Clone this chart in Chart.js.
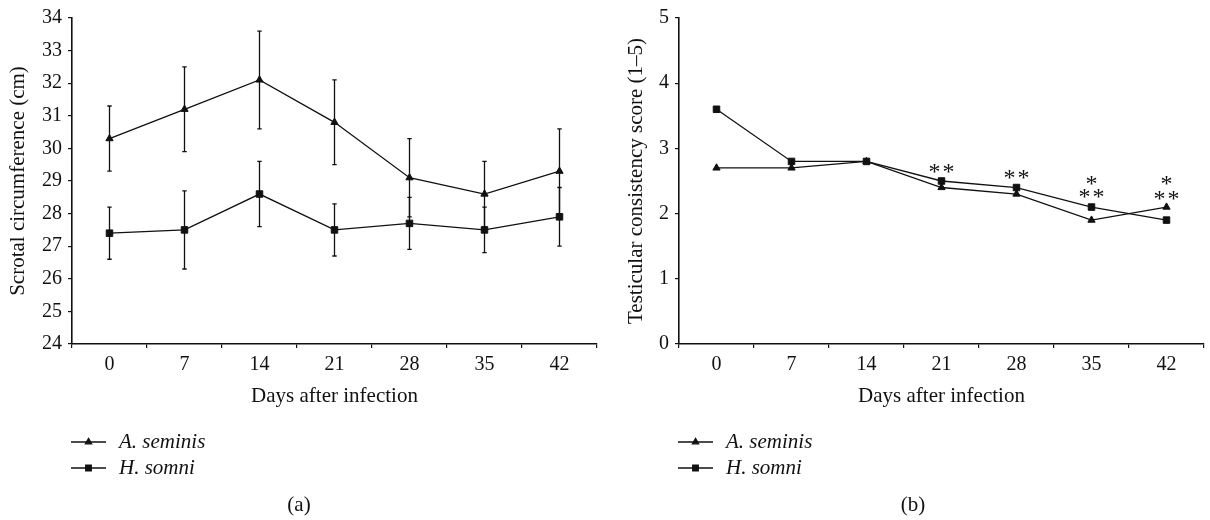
<!DOCTYPE html>
<html><head><meta charset="utf-8">
<script src="https://cdn.jsdelivr.net/npm/chart.js@4/dist/chart.umd.min.js"></script>
<style>
html,body{margin:0;padding:0;background:#fff;width:1210px;height:520px;overflow:hidden}
.p{position:absolute;top:0;width:605px;height:520px}
</style></head><body>
<div class="p" style="left:0"><canvas id="ca" width="605" height="520"></canvas></div>
<div class="p" style="left:605px"><canvas id="cb" width="605" height="520"></canvas></div>
<script>
// ---- data ----
const days = ['0','7','14','21','28','35','42'];
const seriesNames = ['A. seminis','H. somni'];
const scrotalSeminis    = [30.3, 31.2, 32.1, 30.8, 29.1, 28.6, 29.3];
const scrotalSeminisErr = [1.0, 1.3, 1.5, 1.3, 1.2, 1.0, 1.3];
const scrotalSomni      = [27.4, 27.5, 28.6, 27.5, 27.7, 27.5, 27.9];
const scrotalSomniErr   = [0.8, 1.2, 1.0, 0.8, 0.8, 0.7, 0.9];
const consistSeminis    = [2.7, 2.7, 2.8, 2.4, 2.3, 1.9, 2.1];
const consistSomni      = [3.6, 2.8, 2.8, 2.5, 2.4, 2.1, 1.9];
const starLabels = ['**', '**', '*', '**', '*', '**'];
const starDays   = ['21', '28', '35', '35', '42', '42'];
const starValues = [2.67, 2.58, 2.48, 2.29, 2.48, 2.25];
const scrotalTicks = {min: 24, max: 34, step: 1};
const consistTicks = {min: 0, max: 5, step: 1};

// ---- styling ----
const FAM = '"Liberation Serif", "Times New Roman", serif';
const INK = '#111';
const tickFont = {family: FAM, size: 20};
const titleFont = {family: FAM, size: 21};

const errorBarPlugin = {
  id: 'errorBars',
  beforeDatasetsDraw(chart) {
    const ctx = chart.ctx, ys = chart.scales.y;
    chart.data.datasets.forEach((ds, i) => {
      if (!ds.errors) return;
      const meta = chart.getDatasetMeta(i);
      ctx.save();
      ctx.strokeStyle = INK; ctx.lineWidth = 1.3;
      ds.data.forEach((v, j) => {
        const px = meta.data[j].x;
        const t = ys.getPixelForValue(v + ds.errors[j]);
        const b = ys.getPixelForValue(v - ds.errors[j]);
        ctx.beginPath();
        ctx.moveTo(px, t); ctx.lineTo(px, b);
        ctx.moveTo(px - 2.2, t); ctx.lineTo(px + 2.2, t);
        ctx.moveTo(px - 2.2, b); ctx.lineTo(px + 2.2, b);
        ctx.stroke();
      });
      ctx.restore();
    });
  }
};

function drawMarker(ctx, style, r, cx, cy) {
  if (Chart.helpers && Chart.helpers.drawPoint) {
    Chart.helpers.drawPoint(ctx, {pointStyle: style, radius: r, borderWidth: 1, rotation: 0}, cx, cy);
  }
}

const legendPlugin = {
  id: 'stackLegend',
  afterDraw(chart, args, o) {
    const ctx = chart.ctx;
    chart.data.datasets.forEach((ds, i) => {
      const yy = o.y + i * o.gap;
      ctx.save();
      ctx.strokeStyle = INK; ctx.fillStyle = INK; ctx.lineWidth = 1.3;
      ctx.beginPath(); ctx.moveTo(o.x, yy); ctx.lineTo(o.x + o.len, yy); ctx.stroke();
      drawMarker(ctx, ds.pointStyle, ds.pointRadius * 0.85, o.x + o.len / 2, yy);
      ctx.font = 'italic 21px ' + FAM;
      ctx.textBaseline = 'middle'; ctx.textAlign = 'left';
      ctx.fillText(ds.label, o.x + o.len + 13, yy);
      ctx.restore();
    });
    if (o.caption) {
      ctx.save();
      ctx.fillStyle = INK; ctx.font = '21px ' + FAM;
      ctx.textAlign = 'center'; ctx.textBaseline = 'middle';
      ctx.fillText(o.caption, o.capX, o.capY);
      ctx.restore();
    }
  }
};

const starPlugin = {
  id: 'stars',
  afterDatasetsDraw(chart, args, o) {
    if (!o.labels) return;
    const ctx = chart.ctx, xs = chart.scales.x, ys = chart.scales.y;
    ctx.save();
    ctx.fillStyle = INK; ctx.font = '24px ' + FAM;
    ctx.textAlign = 'center'; ctx.textBaseline = 'alphabetic';
    if ('letterSpacing' in ctx) ctx.letterSpacing = '2px';
    o.labels.forEach((t, k) => {
      const px = xs.getPixelForValue(days.indexOf(o.days[k]));
      const py = ys.getPixelForValue(o.values[k]);
      ctx.fillText(t, px + 1, py + 9);
    });
    ctx.restore();
  }
};

function makeChart(id, d1, e1, d2, e2, tk, yTitle, yWidth, yTitlePad, padRight, caption, capX, stars) {
  const ds = (label, data, errs, style, r) => ({
    label, data, errors: errs,
    borderColor: INK, borderWidth: 1.3, backgroundColor: INK,
    pointStyle: style, pointRadius: r, pointBackgroundColor: INK, pointBorderColor: INK,
    pointBorderWidth: 1, tension: 0, fill: false
  });
  return new Chart(document.getElementById(id), {
    type: 'line',
    data: {
      labels: days,
      datasets: [
        ds(seriesNames[0], d1, e1, 'triangle', 4.2),
        ds(seriesNames[1], d2, e2, 'rect', 4.6)
      ]
    },
    options: {
      responsive: false, animation: false, events: [],
      devicePixelRatio: 1,
      layout: {padding: {top: 17, right: padRight, left: 0, bottom: 0}},
      plugins: {
        legend: {display: false}, tooltip: {enabled: false},
        stackLegend: {x: yWidth - 1, y: 442, gap: 26, len: 35, caption, capX, capY: 505},
        stars: stars || {}
      },
      scales: {
        x: {
          type: 'category', offset: true,
          grid: {display: true, drawOnChartArea: false, drawTicks: true, tickLength: 4, offset: true, color: INK, lineWidth: 1.2},
          border: {display: true, color: INK, width: 1.6},
          ticks: {color: INK, font: tickFont, padding: 5, maxRotation: 0, autoSkip: false},
          title: {display: true, text: 'Days after infection', color: INK, font: titleFont, padding: {top: 0, bottom: 111}},
          afterFit(s) { s.height = 176; }
        },
        y: {
          min: tk.min, max: tk.max,
          grid: {display: true, drawOnChartArea: false, drawTicks: true, tickLength: 4, color: INK, lineWidth: 1.2},
          border: {display: true, color: INK, width: 1.6},
          ticks: {stepSize: tk.step, color: INK, font: tickFont, padding: 6},
          title: {display: true, text: yTitle, color: INK, font: titleFont, padding: {top: yTitlePad, bottom: 0}},
          afterFit(s) { s.width = yWidth; }
        }
      }
    },
    plugins: [errorBarPlugin, legendPlugin, starPlugin]
  });
}

makeChart('ca', scrotalSeminis, scrotalSeminisErr, scrotalSomni, scrotalSomniErr, scrotalTicks,
  'Scrotal circumference (cm)', 72, 6, 8, '(a)', 299, null);
makeChart('cb', consistSeminis, null, consistSomni, null, consistTicks,
  'Testicular consistency score (1–5)', 74, 19, 6, '(b)', 308,
  {labels: starLabels, days: starDays, values: starValues});
</script>
</body></html>
